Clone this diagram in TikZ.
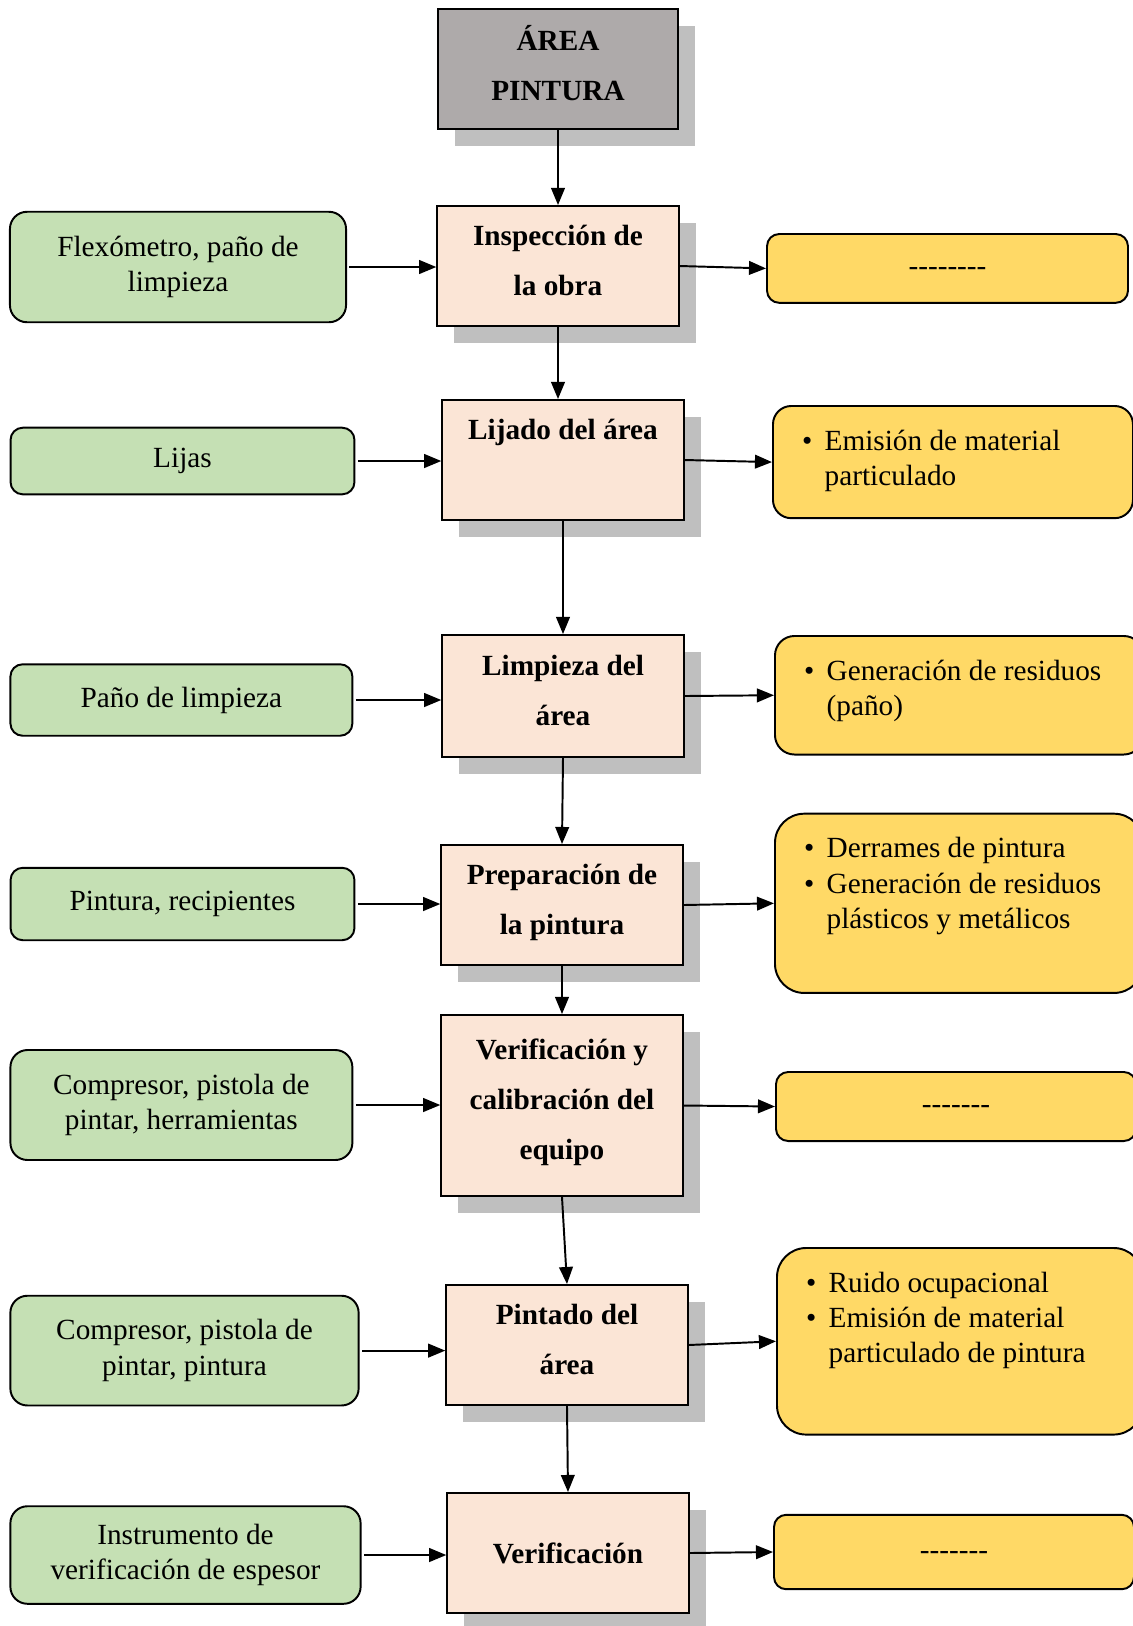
\documentclass[tikz,border=0pt]{standalone}
\usepackage{fontspec}
\setmainfont{Liberation Serif}
\usepackage{tikz}
\usetikzlibrary{arrows.meta, shadows}
\definecolor{areagray}{HTML}{AEAAAA}
\definecolor{pasopink}{HTML}{FBE5D6}
\definecolor{insumogreen}{HTML}{C5E0B4}
\definecolor{riesgoyellow}{HTML}{FFD966}
\definecolor{sombra}{HTML}{BFBFBF}
\newcommand{\guiones}[1]{\strut\foreach \i in {1,...,#1}{\mbox{-}}}
\newcommand{\riesgos}[3]{\parbox[c][#2][t]{#1}{\vspace{8pt}%
  \begin{tabular}[t]{@{\hspace{12pt}}l@{\hspace{5pt}}l@{}}#3\end{tabular}}}

\begin{document}
\begin{tikzpicture}[x=0.41pt, y=-0.41pt, line width=0.8pt,
  >={Triangle[length=7pt,width=5.6pt]},
  caja/.style={draw, align=center, minimum width=99pt, minimum height=49.2pt,
    font=\fontsize{12}{20.5}\selectfont\bfseries,
    drop shadow={shadow xshift=7pt, shadow yshift=-7pt, fill=sombra, draw=none, opacity=1}},
  subir/.style={execute at end node={\rule[-5pt]{0pt}{5pt}}},
  area/.style={caja, subir, fill=areagray, minimum width=98.4pt},
  paso/.style={caja, fill=pasopink},
  insumo/.style={draw, fill=insumogreen, rounded corners=7pt, align=center,
    font=\fontsize{12}{14.5}\selectfont},
  riesgo/.style={draw, fill=riesgoyellow, rounded corners=5pt, align=center,
    font=\fontsize{12}{14.5}\selectfont},
  lista/.style={riesgo, anchor=north west, inner sep=0pt}]
\useasboundingbox (0,0) rectangle (1133,1626);

% central process
\node[area] (area) at (558,69) {ÁREA\\PINTURA};
\node[paso, subir] (p1) at (558,266) {Inspección de\\la obra};
\node[paso, subir] (p2) at (563,460) {Lijado del área\\\mbox{}};
\node[paso, subir, minimum height=50pt] (p3) at (563,696) {Limpieza del\\área};
\node[paso, subir] (p4) at (562,905) {Preparación de\\la pintura};
\node[paso, subir, minimum height=74.2pt] (p5) at (562,1105.5) {Verificación y\\calibración del\\equipo};
\node[paso, subir] (p6) at (567,1345) {Pintado del\\área};
\node[paso] (p7) at (568,1553) {Verificación};

% inputs
\node[insumo, minimum width=137.8pt, minimum height=45.3pt] (g1) at (178,267) {Flexómetro, paño de\\limpieza};
\node[insumo, minimum width=141pt, minimum height=27.3pt, rounded corners=5pt] (g2) at (182.5,461) {Lijas};
\node[insumo, minimum width=140.2pt, minimum height=29.3pt, rounded corners=5pt] (g3) at (181.4,700) {Paño de limpieza};
\node[insumo, minimum width=141pt, minimum height=29.7pt, rounded corners=5pt] (g4) at (182.5,904) {Pintura, recipientes};
\node[insumo, minimum width=140.2pt, minimum height=45.1pt] (g5) at (181.4,1105) {Compresor, pistola de\\pintar, herramientas};
\node[insumo, minimum width=142.8pt, minimum height=45pt] (g6) at (184.5,1350.6) {Compresor, pistola de\\pintar, pintura};
\node[insumo, minimum width=143.6pt, minimum height=40pt] (g7) at (185.5,1555) {Instrumento de\\verificación de espesor};

% environmental aspects
\node[riesgo, minimum width=148pt, minimum height=28.2pt] (y1) at (947.5,268.4) {\guiones{8}};
\node[lista, rounded corners=7.5pt] (y2) at (772,405) {\riesgos{147.6pt}{46pt}{\textbullet & Emisión de material\\ & particulado}};
\node[lista, rounded corners=8pt] (y3) at (774,635) {\riesgos{151pt}{48.6pt}{\textbullet & Generación de residuos\\ & (paño)}};
\node[lista, rounded corners=12pt] (y4) at (774,812.7) {\riesgos{151pt}{73.5pt}{\textbullet & Derrames de pintura\\ \textbullet & Generación de residuos\\ & plásticos y metálicos}};
\node[riesgo, minimum width=147.6pt, minimum height=28.3pt] (y5) at (956,1106.5) {\guiones{7}};
\node[lista, rounded corners=12pt] (y6) at (776,1247) {\riesgos{150pt}{76.5pt}{\textbullet & Ruido ocupacional\\ \textbullet & Emisión de material\\ & particulado de pintura}};
\node[riesgo, minimum width=147.6pt, minimum height=30.5pt] (y7) at (954,1552) {\guiones{7}};

% connectors
\draw[->] (area.south) -- (p1.north);
\draw[->] (p1.south) -- (p1.south |- p2.north);
\draw[->] (p2.south) -- (p3.north);
\draw[->] (p3.south) -- (p4.north);
\draw[->] (p4.south) -- (p5.north);
\draw[->] (p5.south) -- (p6.north);
\draw[->] (p6.south) -- (p7.north);
\foreach \n in {1,...,7}{
  \draw[->, shorten <=1pt] (g\n.east) -- (g\n.east -| p\n.west);
  \draw[->] (p\n.east) -- (y\n.west);
}
\end{tikzpicture}
\end{document}
